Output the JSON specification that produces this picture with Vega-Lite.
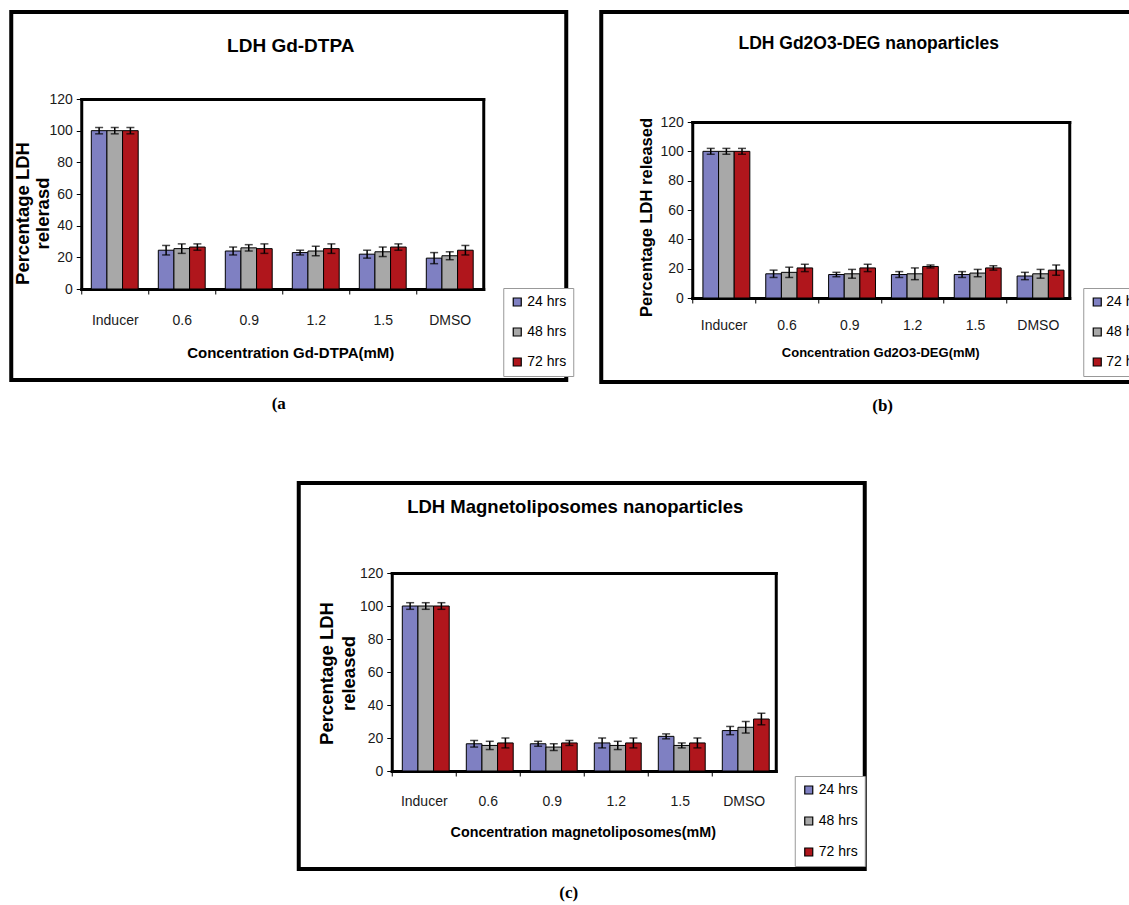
{
 "$schema": "https://vega.github.io/schema/vega-lite/v6.json",
 "background": "white",
 "padding": {"left": 9, "top": 10, "right": 0, "bottom": 0},
 "data": {"values": [
  {"panel":"a","conc":"Inducer","time":"24 hrs","value":100,"lo":98,"hi":102},
  {"panel":"a","conc":"Inducer","time":"48 hrs","value":100,"lo":98,"hi":102},
  {"panel":"a","conc":"Inducer","time":"72 hrs","value":100,"lo":98,"hi":102},
  {"panel":"a","conc":"0.6","time":"24 hrs","value":24.5,"lo":21.5,"hi":27.5},
  {"panel":"a","conc":"0.6","time":"48 hrs","value":25.5,"lo":22.5,"hi":28.5},
  {"panel":"a","conc":"0.6","time":"72 hrs","value":26.5,"lo":24.5,"hi":28.5},
  {"panel":"a","conc":"0.9","time":"24 hrs","value":24,"lo":21.5,"hi":26.5},
  {"panel":"a","conc":"0.9","time":"48 hrs","value":26,"lo":24,"hi":28},
  {"panel":"a","conc":"0.9","time":"72 hrs","value":25.5,"lo":22.5,"hi":28.5},
  {"panel":"a","conc":"1.2","time":"24 hrs","value":23,"lo":21.5,"hi":24.5},
  {"panel":"a","conc":"1.2","time":"48 hrs","value":24,"lo":21,"hi":27},
  {"panel":"a","conc":"1.2","time":"72 hrs","value":25.5,"lo":22.5,"hi":28.5},
  {"panel":"a","conc":"1.5","time":"24 hrs","value":22,"lo":19.5,"hi":24.5},
  {"panel":"a","conc":"1.5","time":"48 hrs","value":23.5,"lo":20.5,"hi":26.5},
  {"panel":"a","conc":"1.5","time":"72 hrs","value":26.5,"lo":24.5,"hi":28.5},
  {"panel":"a","conc":"DMSO","time":"24 hrs","value":19.5,"lo":16,"hi":23},
  {"panel":"a","conc":"DMSO","time":"48 hrs","value":21,"lo":18.5,"hi":23.5},
  {"panel":"a","conc":"DMSO","time":"72 hrs","value":24.5,"lo":21.5,"hi":27.5},
  {"panel":"b","conc":"Inducer","time":"24 hrs","value":100,"lo":98,"hi":102},
  {"panel":"b","conc":"Inducer","time":"48 hrs","value":100,"lo":98,"hi":102},
  {"panel":"b","conc":"Inducer","time":"72 hrs","value":100,"lo":98,"hi":102},
  {"panel":"b","conc":"0.6","time":"24 hrs","value":16.5,"lo":14,"hi":19},
  {"panel":"b","conc":"0.6","time":"48 hrs","value":17.5,"lo":14,"hi":21},
  {"panel":"b","conc":"0.6","time":"72 hrs","value":20.5,"lo":18,"hi":23},
  {"panel":"b","conc":"0.9","time":"24 hrs","value":16,"lo":14.5,"hi":17.5},
  {"panel":"b","conc":"0.9","time":"48 hrs","value":16.5,"lo":13.5,"hi":19.5},
  {"panel":"b","conc":"0.9","time":"72 hrs","value":20.5,"lo":18,"hi":23},
  {"panel":"b","conc":"1.2","time":"24 hrs","value":16,"lo":14,"hi":18},
  {"panel":"b","conc":"1.2","time":"48 hrs","value":16.5,"lo":12.5,"hi":20.5},
  {"panel":"b","conc":"1.2","time":"72 hrs","value":21.5,"lo":20.5,"hi":22.5},
  {"panel":"b","conc":"1.5","time":"24 hrs","value":16,"lo":14,"hi":18},
  {"panel":"b","conc":"1.5","time":"48 hrs","value":17,"lo":14.5,"hi":19.5},
  {"panel":"b","conc":"1.5","time":"72 hrs","value":20.5,"lo":19,"hi":22},
  {"panel":"b","conc":"DMSO","time":"24 hrs","value":15,"lo":12.5,"hi":17.5},
  {"panel":"b","conc":"DMSO","time":"48 hrs","value":16.5,"lo":13.5,"hi":19.5},
  {"panel":"b","conc":"DMSO","time":"72 hrs","value":19,"lo":15.5,"hi":22.5},
  {"panel":"c","conc":"Inducer","time":"24 hrs","value":100,"lo":98,"hi":102},
  {"panel":"c","conc":"Inducer","time":"48 hrs","value":100,"lo":98,"hi":102},
  {"panel":"c","conc":"Inducer","time":"72 hrs","value":100,"lo":98,"hi":102},
  {"panel":"c","conc":"0.6","time":"24 hrs","value":16.5,"lo":14.5,"hi":18.5},
  {"panel":"c","conc":"0.6","time":"48 hrs","value":15.5,"lo":13,"hi":18},
  {"panel":"c","conc":"0.6","time":"72 hrs","value":17,"lo":14,"hi":20},
  {"panel":"c","conc":"0.9","time":"24 hrs","value":16.5,"lo":15,"hi":18},
  {"panel":"c","conc":"0.9","time":"48 hrs","value":14.5,"lo":12.5,"hi":16.5},
  {"panel":"c","conc":"0.9","time":"72 hrs","value":17,"lo":15.5,"hi":18.5},
  {"panel":"c","conc":"1.2","time":"24 hrs","value":17,"lo":14,"hi":20},
  {"panel":"c","conc":"1.2","time":"48 hrs","value":15.5,"lo":13,"hi":18},
  {"panel":"c","conc":"1.2","time":"72 hrs","value":17,"lo":14,"hi":20},
  {"panel":"c","conc":"1.5","time":"24 hrs","value":21,"lo":19.5,"hi":22.5},
  {"panel":"c","conc":"1.5","time":"48 hrs","value":15.5,"lo":14,"hi":17},
  {"panel":"c","conc":"1.5","time":"72 hrs","value":17,"lo":14,"hi":20},
  {"panel":"c","conc":"DMSO","time":"24 hrs","value":24.5,"lo":22,"hi":27},
  {"panel":"c","conc":"DMSO","time":"48 hrs","value":26.5,"lo":23,"hi":30},
  {"panel":"c","conc":"DMSO","time":"72 hrs","value":31.5,"lo":28,"hi":35}
 ]},
 "config": {
  "view": {"stroke": "#000", "strokeWidth": 4},
  "axis": {"domainColor": "#000", "domainWidth": 3, "domainCap": "square", "tickColor": "#000", "tickSize": 5, "tickWidth": 1, "labelFont": "Liberation Sans", "labelFontSize": 14, "labelColor": "#1a1a1a", "titleFont": "Liberation Sans", "titleFontSize": 14, "titleFontWeight": "bold", "titleColor": "#000", "grid": false},
  "legend": {"orient": "none", "labelFont": "Liberation Sans", "labelFontSize": 14, "labelColor": "#000", "symbolType": "square", "symbolSize": 64, "symbolStrokeColor": "#000", "symbolStrokeWidth": 1.2, "strokeColor": "#999", "fillColor": "white", "padding": 7, "rowPadding": 16, "labelOffset": 3},
  "title": {"font": "Liberation Serif", "fontSize": 17, "fontWeight": "bold", "color": "#000", "baseline": "top"}
 },
 "vconcat": [
  {
   "hconcat": [
    {
     "width": 555, "height": 368,
     "title": {"text": "(a", "orient": "bottom", "frame": "group", "anchor": "middle", "dx": -10, "offset": 16},
     "transform": [{"filter": "datum.panel === 'a'"}],
     "layer": [
      {
       "mark": {"type": "bar", "stroke": "#000", "strokeWidth": 1},
       "encoding": {
        "x": {"field": "conc", "type": "nominal", "sort": ["Inducer","0.6","0.9","1.2","1.5","DMSO"],
              "scale": {"range": [70, 472], "paddingInner": 0.3, "paddingOuter": 0.15},
              "axis": {"orient": "bottom", "offset": -91, "labelAngle": 0, "labelPadding": 19, "tickOffset": -33.5, "labelOffset": 33.5, "title": "Concentration Gd-DTPA(mM)", "titleFontSize": 15, "titleX": 279, "titleY": 63, "titleBaseline": "middle"}},
        "xOffset": {"field": "time", "type": "nominal", "sort": ["24 hrs","48 hrs","72 hrs"], "scale": {"paddingInner": 0, "paddingOuter": 0}},
        "y": {"field": "value", "type": "quantitative", "scale": {"domain": [0, 120], "range": [277, 87], "nice": false},
              "axis": {"orient": "left", "offset": -70, "values": [0,20,40,60,80,100,120], "labelPadding": 4, "title": ["Percentage  LDH", "relerasd"], "titleFontSize": 18.5, "titleX": -59, "titleY": 201, "titleBaseline": "middle", "titleLineHeight": 20}},
        "color": {"field": "time", "type": "nominal", "scale": {"domain": ["24 hrs","48 hrs","72 hrs"], "range": ["#7F80C2", "#A8A8A8", "#B0161C"]},
                  "legend": {"title": null, "legendX": 492, "legendY": 276}}
       }
      },
      {
       "mark": {"type": "rule", "color": "#000", "strokeWidth": 1.5},
       "encoding": {
        "x": {"field": "conc", "type": "nominal", "sort": ["Inducer","0.6","0.9","1.2","1.5","DMSO"],
              "axis": {"orient": "top", "offset": -87, "labels": false, "ticks": false, "title": "LDH  Gd-DTPA", "titleFontSize": 19, "titleX": 279, "titleY": -54, "titleBaseline": "middle"}},
        "xOffset": {"field": "time", "type": "nominal", "sort": ["24 hrs","48 hrs","72 hrs"]},
        "y": {"field": "lo", "type": "quantitative", "axis": {"orient": "right", "offset": -83, "labels": false, "ticks": false, "title": null}},
        "y2": {"field": "hi"}
       }
      },
      {
       "mark": {"type": "tick", "color": "#000", "thickness": 1.5, "size": 8},
       "encoding": {
        "x": {"field": "conc", "type": "nominal", "sort": ["Inducer","0.6","0.9","1.2","1.5","DMSO"], "axis": null},
        "xOffset": {"field": "time", "type": "nominal", "sort": ["24 hrs","48 hrs","72 hrs"]},
        "y": {"field": "lo", "type": "quantitative", "axis": null}
       }
      },
      {
       "mark": {"type": "tick", "color": "#000", "thickness": 1.5, "size": 8},
       "encoding": {
        "x": {"field": "conc", "type": "nominal", "sort": ["Inducer","0.6","0.9","1.2","1.5","DMSO"], "axis": null},
        "xOffset": {"field": "time", "type": "nominal", "sort": ["24 hrs","48 hrs","72 hrs"]},
        "y": {"field": "hi", "type": "quantitative", "axis": null}
       }
      }
     ],
     "resolve": {"axis": {"x": "independent", "y": "independent"}}
    },
    {
     "width": 550, "height": 370,
     "title": {"text": "(b)", "orient": "bottom", "frame": "group", "anchor": "start", "dx": 271, "offset": 16},
     "transform": [{"filter": "datum.panel === 'b'"}],
     "layer": [
      {
       "mark": {"type": "bar", "stroke": "#000", "strokeWidth": 1},
       "encoding": {
        "x": {"field": "conc", "type": "nominal", "sort": ["Inducer","0.6","0.9","1.2","1.5","DMSO"],
              "scale": {"range": [91, 468], "paddingInner": 0.34, "paddingOuter": 0.17},
              "axis": {"orient": "bottom", "offset": -84, "labelAngle": 0, "labelPadding": 15, "tickOffset": -31.4, "labelOffset": 31.4, "title": "Concentration Gd2O3-DEG(mM)", "titleFontSize": 13, "titleX": 279, "titleY": 54, "titleBaseline": "middle"}},
        "xOffset": {"field": "time", "type": "nominal", "sort": ["24 hrs","48 hrs","72 hrs"], "scale": {"paddingInner": 0, "paddingOuter": 0}},
        "y": {"field": "value", "type": "quantitative", "scale": {"domain": [0, 120], "range": [286, 110], "nice": false},
              "axis": {"orient": "left", "offset": -91, "values": [0,20,40,60,80,100,120], "labelPadding": 4, "title": "Percentage LDH released", "titleFontSize": 16.5, "titleX": -46, "titleY": 205, "titleBaseline": "middle"}},
        "color": {"field": "time", "type": "nominal", "scale": {"domain": ["24 hrs","48 hrs","72 hrs"], "range": ["#7F80C2", "#A8A8A8", "#B0161C"]},
                  "legend": {"title": null, "legendX": 482, "legendY": 276, "rowPadding": 16, "labelOffset": 2}}
       }
      },
      {
       "mark": {"type": "rule", "color": "#000", "strokeWidth": 1.5},
       "encoding": {
        "x": {"field": "conc", "type": "nominal", "sort": ["Inducer","0.6","0.9","1.2","1.5","DMSO"],
              "axis": {"orient": "top", "offset": -110, "labels": false, "ticks": false, "title": "LDH Gd2O3-DEG nanoparticles", "titleFontSize": 17.5, "titleX": 267, "titleY": -79, "titleBaseline": "middle"}},
        "xOffset": {"field": "time", "type": "nominal", "sort": ["24 hrs","48 hrs","72 hrs"]},
        "y": {"field": "lo", "type": "quantitative", "axis": {"orient": "right", "offset": -82, "labels": false, "ticks": false, "title": null}},
        "y2": {"field": "hi"}
       }
      },
      {
       "mark": {"type": "tick", "color": "#000", "thickness": 1.5, "size": 8},
       "encoding": {
        "x": {"field": "conc", "type": "nominal", "sort": ["Inducer","0.6","0.9","1.2","1.5","DMSO"], "axis": null},
        "xOffset": {"field": "time", "type": "nominal", "sort": ["24 hrs","48 hrs","72 hrs"]},
        "y": {"field": "lo", "type": "quantitative", "axis": null}
       }
      },
      {
       "mark": {"type": "tick", "color": "#000", "thickness": 1.5, "size": 8},
       "encoding": {
        "x": {"field": "conc", "type": "nominal", "sort": ["Inducer","0.6","0.9","1.2","1.5","DMSO"], "axis": null},
        "xOffset": {"field": "time", "type": "nominal", "sort": ["24 hrs","48 hrs","72 hrs"]},
        "y": {"field": "hi", "type": "quantitative", "axis": null}
       }
      }
     ],
     "resolve": {"axis": {"x": "independent", "y": "independent"}}
    }
   ],
   "spacing": 23,
   "resolve": {"legend": {"color": "independent"}}
  },
  {
   "width": 566, "height": 386,
   "title": {"text": "(c)", "orient": "bottom", "frame": "group", "anchor": "middle", "dx": -13, "offset": 16},
   "transform": [{"filter": "datum.panel === 'c'"}],
   "layer": [
    {
     "mark": {"type": "bar", "stroke": "#000", "strokeWidth": 1},
     "encoding": {
      "x": {"field": "conc", "type": "nominal", "sort": ["Inducer","0.6","0.9","1.2","1.5","DMSO"],
            "scale": {"range": [93, 477], "paddingInner": 0.33, "paddingOuter": 0.165},
            "axis": {"orient": "bottom", "offset": -98, "labelAngle": 0, "labelPadding": 18, "tickOffset": -32, "labelOffset": 32, "title": "Concentration magnetoliposomes(mM)", "titleFontSize": 14.3, "titleX": 284, "titleY": 61, "titleBaseline": "middle"}},
      "xOffset": {"field": "time", "type": "nominal", "sort": ["24 hrs","48 hrs","72 hrs"], "scale": {"paddingInner": 0, "paddingOuter": 0}},
      "y": {"field": "value", "type": "quantitative", "scale": {"domain": [0, 120], "range": [288, 90], "nice": false},
            "axis": {"orient": "left", "offset": -93, "values": [0,20,40,60,80,100,120], "labelPadding": 4, "title": ["Percentage LDH", "released"], "titleFontSize": 18.5, "titleX": -65, "titleY": 190, "titleBaseline": "middle", "titleLineHeight": 22}},
      "color": {"field": "time", "type": "nominal", "scale": {"domain": ["24 hrs","48 hrs","72 hrs"], "range": ["#7F80C2", "#A8A8A8", "#B0161C"]},
                "legend": {"title": null, "legendX": 496, "legendY": 293, "rowPadding": 17}}
     }
    },
    {
     "mark": {"type": "rule", "color": "#000", "strokeWidth": 1.5},
     "encoding": {
      "x": {"field": "conc", "type": "nominal", "sort": ["Inducer","0.6","0.9","1.2","1.5","DMSO"],
            "axis": {"orient": "top", "offset": -90, "labels": false, "ticks": false, "title": "LDH  Magnetoliposomes nanoparticles", "titleFontSize": 18.5, "titleX": 276, "titleY": -67, "titleBaseline": "middle"}},
      "xOffset": {"field": "time", "type": "nominal", "sort": ["24 hrs","48 hrs","72 hrs"]},
      "y": {"field": "lo", "type": "quantitative", "axis": {"orient": "right", "offset": -89, "labels": false, "ticks": false, "title": null}},
      "y2": {"field": "hi"}
     }
    },
    {
     "mark": {"type": "tick", "color": "#000", "thickness": 1.5, "size": 8},
     "encoding": {
      "x": {"field": "conc", "type": "nominal", "sort": ["Inducer","0.6","0.9","1.2","1.5","DMSO"], "axis": null},
      "xOffset": {"field": "time", "type": "nominal", "sort": ["24 hrs","48 hrs","72 hrs"]},
      "y": {"field": "lo", "type": "quantitative", "axis": null}
     }
    },
    {
     "mark": {"type": "tick", "color": "#000", "thickness": 1.5, "size": 8},
     "encoding": {
      "x": {"field": "conc", "type": "nominal", "sort": ["Inducer","0.6","0.9","1.2","1.5","DMSO"], "axis": null},
      "xOffset": {"field": "time", "type": "nominal", "sort": ["24 hrs","48 hrs","72 hrs"]},
      "y": {"field": "hi", "type": "quantitative", "axis": null}
     }
    }
   ],
   "resolve": {"axis": {"x": "independent", "y": "independent"}}
  }
 ],
 "spacing": 65,
 "center": true,
 "resolve": {"legend": {"color": "independent"}}
}
